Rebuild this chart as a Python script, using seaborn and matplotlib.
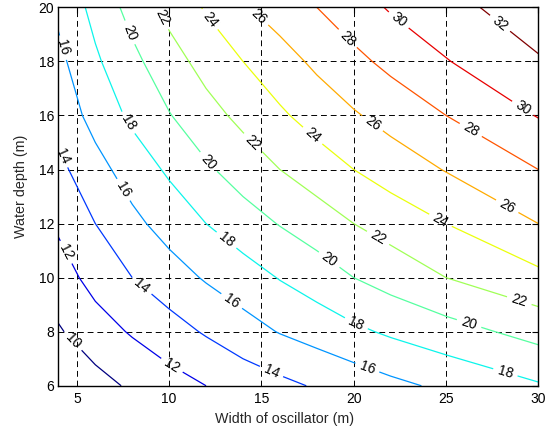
import numpy as np
import matplotlib
matplotlib.use("Agg")
import matplotlib.pyplot as plt
import seaborn as sns

# grid (width in m, water depth in m)
width_m = [4, 6, 8, 10, 12, 14, 16, 18, 20, 22, 25, 30]
depth_m = [6, 8, 10, 12, 14, 16, 18, 20]

# estimated values at each (depth, width) node, one row per depth
row_d6 = [8.1, 9.3, 10.3, 11.2, 12.0, 12.8, 13.5, 14.2, 14.8, 15.5, 16.4, 17.8]
row_d8 = [9.8, 11.1, 12.2, 13.2, 14.2, 15.2, 16.1, 16.8, 17.6, 18.3, 19.2, 20.7]
row_d10 = [11.1, 12.7, 14.0, 15.1, 16.2, 17.1, 18.1, 19.0, 20.0, 20.8, 22.0, 23.5]
row_d12 = [12.3, 14.0, 15.5, 16.8, 18.0, 19.1, 20.1, 21.0, 22.0, 22.8, 24.0, 26.0]
row_d14 = [13.5, 15.3, 16.9, 18.3, 19.7, 20.9, 22.0, 23.0, 24.0, 24.9, 26.1, 28.0]
row_d16 = [14.7, 16.7, 18.4, 19.9, 21.3, 22.5, 23.7, 24.8, 25.8, 26.7, 28.0, 30.1]
row_d18 = [15.5, 17.7, 19.5, 21.2, 22.7, 24.0, 25.2, 26.4, 27.5, 28.5, 29.9, 31.8]
row_d20 = [16.4, 18.6, 20.7, 22.6, 24.2, 25.8, 26.9, 28.0, 29.1, 30.2, 31.3, 33.2]

levels = [10, 12, 14, 16, 18, 20, 22, 24, 26, 28, 30, 32]

# where the contour labels sit in the reference (data coords)
label_pos = [
    (4.2, 18.5), (7.6, 19.0), (9.6, 19.6), (12.1, 19.5), (14.9, 19.7),
    (19.6, 18.8), (22.4, 19.5), (27.8, 19.3), (29.0, 16.1), (26.2, 15.3),
    (20.9, 15.6), (17.7, 15.2), (14.4, 14.9), (12.0, 14.2), (7.7, 15.7),
    (7.4, 13.2), (4.2, 14.5), (4.3, 10.9), (4.7, 7.6), (8.4, 9.6),
    (10.1, 6.7), (13.0, 11.3), (13.3, 9.05), (15.5, 6.46), (28.2, 12.5),
    (24.6, 12.0), (21.3, 11.45), (18.6, 10.6), (28.9, 9.0), (26.2, 8.2),
    (20.1, 8.25), (20.7, 6.6), (28.2, 6.46),
]

sns.set_style("white")
plt.rcParams['font.family'] = ['Liberation Sans', 'DejaVu Sans']

Z = np.array([row_d6, row_d8, row_d10, row_d12, row_d14, row_d16, row_d18, row_d20])
X, Y = np.meshgrid(width_m, depth_m)

fig = plt.figure(figsize=(5.51, 4.32), dpi=100)
ax = fig.add_axes([0.106, 0.107, 0.871, 0.876])

cs = ax.contour(X, Y, Z, levels=levels, cmap='jet', linewidths=0.9)
ax.clabel(cs, levels, inline=True, fontsize=10, fmt='%d', colors='k',
          manual=label_pos)

ax.set_xlim(4, 30)
ax.set_ylim(6, 20)
ax.set_xticks([5, 10, 15, 20, 25, 30])
ax.set_yticks([6, 8, 10, 12, 14, 16, 18, 20])
ax.grid(True, color='k', linestyle=(0, (6, 4)), linewidth=0.7)
ax.tick_params(direction='in', top=True, right=True, length=4,
               labelsize=10, colors='k')
ax.tick_params(axis='x', pad=4.5)
ax.tick_params(axis='y', pad=3)
for s in ax.spines.values():
    s.set_color('k')
    s.set_linewidth(1.0)

ax.set_xlabel('Width of oscillator (m)', fontsize=10.3)
ax.set_ylabel('Water depth (m)', fontsize=10.3)
ax.xaxis.set_label_coords(0.472, -0.069)
ax.yaxis.set_label_coords(-0.064, 0.528)

plt.savefig('out.png', dpi=100)
